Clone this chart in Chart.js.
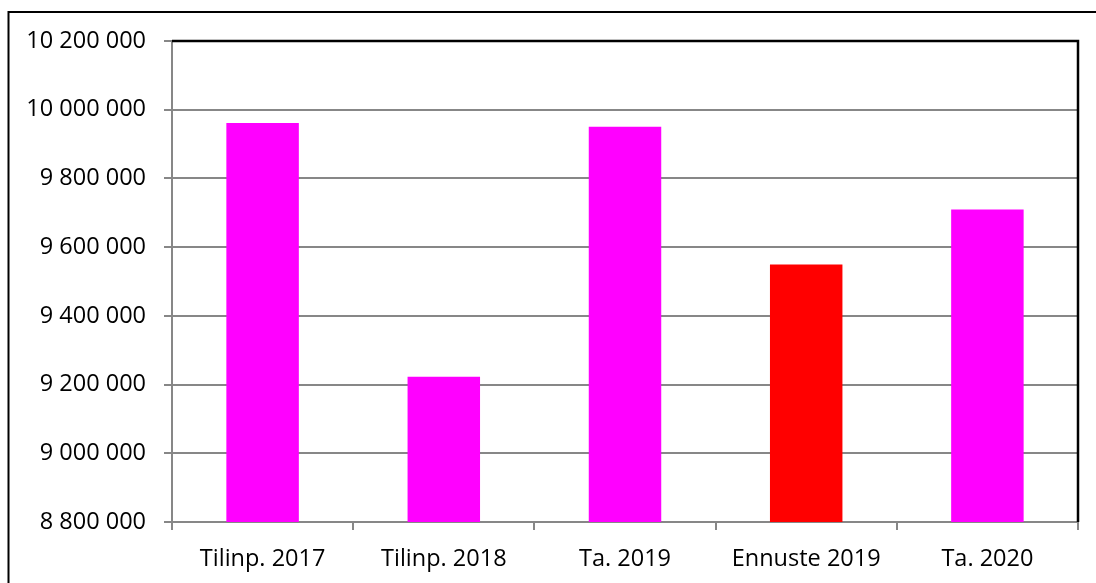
<!DOCTYPE html>
<html>
<head>
<meta charset="utf-8">
<script src="https://cdn.jsdelivr.net/npm/chart.js@4/dist/chart.umd.min.js"></script>
<style>
  html, body { margin: 0; padding: 0; background: #ffffff; }
  #wrap { width: 1096px; height: 583px; position: relative; }
</style>
</head>
<body>
<div id="wrap"><canvas id="c" width="1096" height="583"></canvas></div>
<script>
// ---- data ----
const categories = ["Tilinp. 2017", "Tilinp. 2018", "Ta. 2019", "Ennuste 2019", "Ta. 2020"];
const values = [9961000, 9223000, 9950500, 9549700, 9709900];
const yMin = 8800000;
const yMax = 10200000;
const yStep = 200000;

// ---- styles ----
const barColors = ["#FF00FF", "#FF00FF", "#FF00FF", "#FF0000", "#FF00FF"];
const gridGray = "#878787";
const fontFamily = "'Open Sans', sans-serif";

function fmt(v) {
  return String(Math.round(v)).replace(/\B(?=(\d{3})+(?!\d))/g, " ");
}

const frames = {
  id: "frames",
  beforeDraw(chart) {
    const ctx = chart.ctx;
    ctx.save();
    ctx.fillStyle = "#ffffff";
    ctx.fillRect(0, 0, chart.width, chart.height);
    ctx.restore();
  },
  afterDraw(chart) {
    const ctx = chart.ctx;
    const a = chart.chartArea;
    ctx.save();
    ctx.strokeStyle = "#000000";
    ctx.lineWidth = 2.5;
    ctx.beginPath();
    ctx.moveTo(a.left, a.top);
    ctx.lineTo(a.right, a.top);
    ctx.lineTo(a.right, a.bottom);
    ctx.stroke();
    ctx.lineWidth = 2;
    ctx.strokeRect(8.5, 12, 1300, 800);
    ctx.restore();
  }
};

new Chart(document.getElementById("c"), {
  type: "bar",
  data: {
    labels: categories,
    datasets: [{
      data: values,
      backgroundColor: barColors,
      borderWidth: 0,
      barPercentage: 0.4,
      categoryPercentage: 1.0
    }]
  },
  options: {
    responsive: false,
    animation: false,
    devicePixelRatio: 1,
    layout: { padding: { left: 0, top: 41, right: 18, bottom: 0 } },
    plugins: { legend: { display: false }, tooltip: { enabled: false } },
    scales: {
      x: {
        afterFit(scale) { scale.height = 61; },
        grid: {
          drawOnChartArea: false,
          drawTicks: true,
          tickLength: 8,
          color: gridGray,
          lineWidth: 2,
          offset: true
        },
        border: { display: true, color: gridGray, width: 2 },
        ticks: {
          color: "#000000",
          padding: 15,
          maxRotation: 0,
          font: { family: fontFamily, size: 23.5 }
        }
      },
      y: {
        min: yMin,
        max: yMax,
        afterFit(scale) { scale.width = 172; },
        grid: {
          color: gridGray,
          lineWidth: 2,
          tickLength: 8,
          drawTicks: true
        },
        border: { display: true, color: gridGray, width: 2 },
        ticks: {
          stepSize: yStep,
          color: "#000000",
          padding: 18,
          font: { family: fontFamily, size: 23.5 },
          callback: (v) => fmt(v)
        }
      }
    }
  },
  plugins: [frames]
});
</script>
</body>
</html>
